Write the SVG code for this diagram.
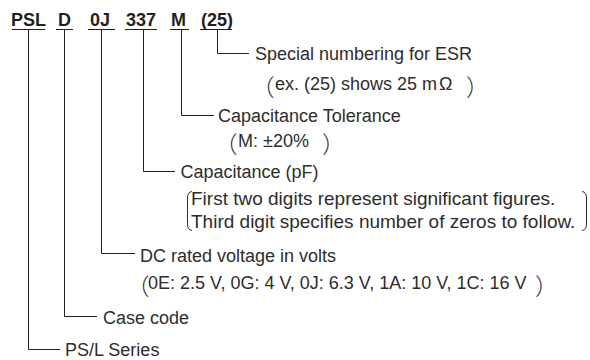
<svg xmlns="http://www.w3.org/2000/svg" width="590" height="360" viewBox="0 0 590 360">
<style>
.code{font-family:"Liberation Sans",Arial,sans-serif;font-weight:bold;font-size:18px;fill:#231f20}
.t{font-family:"Liberation Sans","Noto Sans CJK JP",Arial,sans-serif;font-size:18px;fill:#2d2d2d}
.t2{font-size:19px}
.bk{font-family:"Noto Sans CJK JP",sans-serif;font-size:23px;font-weight:300}
.ln{stroke:#231f20;stroke-width:1;fill:none}
.br{stroke:#2d2d2d;stroke-width:1;fill:none}
</style>
<rect width="590" height="360" fill="#fff"/>
<g id="codes">
<text class="code" x="11" y="26">PSL</text>
<text class="code" x="58" y="26">D</text>
<text class="code" x="90" y="26">0J</text>
<text class="code" x="126" y="26">337</text>
<text class="code" x="171" y="26">M</text>
<text class="code" x="201" y="26">(25)</text>
<path class="ln" d="M12 29.5H45M56 29.5H73M88 29.5H115M125 29.5H157M170 29.5H189M200 29.5H232"/>
</g>
<g id="connectors">
<path class="ln" d="M217.5 30V53.5H249"/>
<path class="ln" d="M181.5 30V115.5H214"/>
<path class="ln" d="M143.5 30V171.5H175"/>
<path class="ln" d="M101.5 30V253.5H135"/>
<path class="ln" d="M64.5 30V316.5H97"/>
<path class="ln" d="M28.5 30V349.5H60"/>
</g>
<g id="esr">
<text class="t" x="255" y="59.5">Special numbering for ESR</text>
<text class="t" y="89.5"><tspan class="bk" x="251.5" dy="6">（</tspan><tspan x="275" dy="-6">ex. (25) shows 25 m<tspan dx="2">Ω</tspan></tspan><tspan class="bk" x="466" dy="6">）</tspan></text>
</g>
<g id="tolerance">
<text class="t" x="218" y="122">Capacitance Tolerance</text>
<text class="t" y="147"><tspan class="bk" x="214.5" dy="6">（</tspan><tspan x="238" dy="-6">M: ±20%</tspan><tspan class="bk" x="322" dy="6">）</tspan></text>
</g>
<g id="capacitance">
<text class="t" x="180.5" y="178">Capacitance (pF)</text>
<path class="br" d="M192 191.5Q187.5 192 187.5 198V224Q187.5 230 192 230.5"/>
<text class="t t2" x="191" y="205">First two digits represent significant figures.</text>
<text class="t t2" x="191" y="228">Third digit specifies number of zeros to follow.</text>
<path class="br" d="M582 191.5Q586.5 192 586.5 198V224Q586.5 230 582 230.5"/>
</g>
<g id="voltage">
<text class="t" x="140" y="261.5">DC rated voltage in volts</text>
<text class="t" y="289"><tspan class="bk" x="126.5" dy="6">（</tspan><tspan x="148" dy="-6">0E: 2.5 V, 0G: 4 V, 0J: 6.3 V, 1A: 10 V, 1C: 16 V</tspan><tspan class="bk" x="535" dy="6">）</tspan></text>
</g>
<g id="case">
<text class="t" x="103" y="323.5">Case code</text>
</g>
<g id="series">
<text class="t" x="65" y="356">PS/L Series</text>
</g>
</svg>
